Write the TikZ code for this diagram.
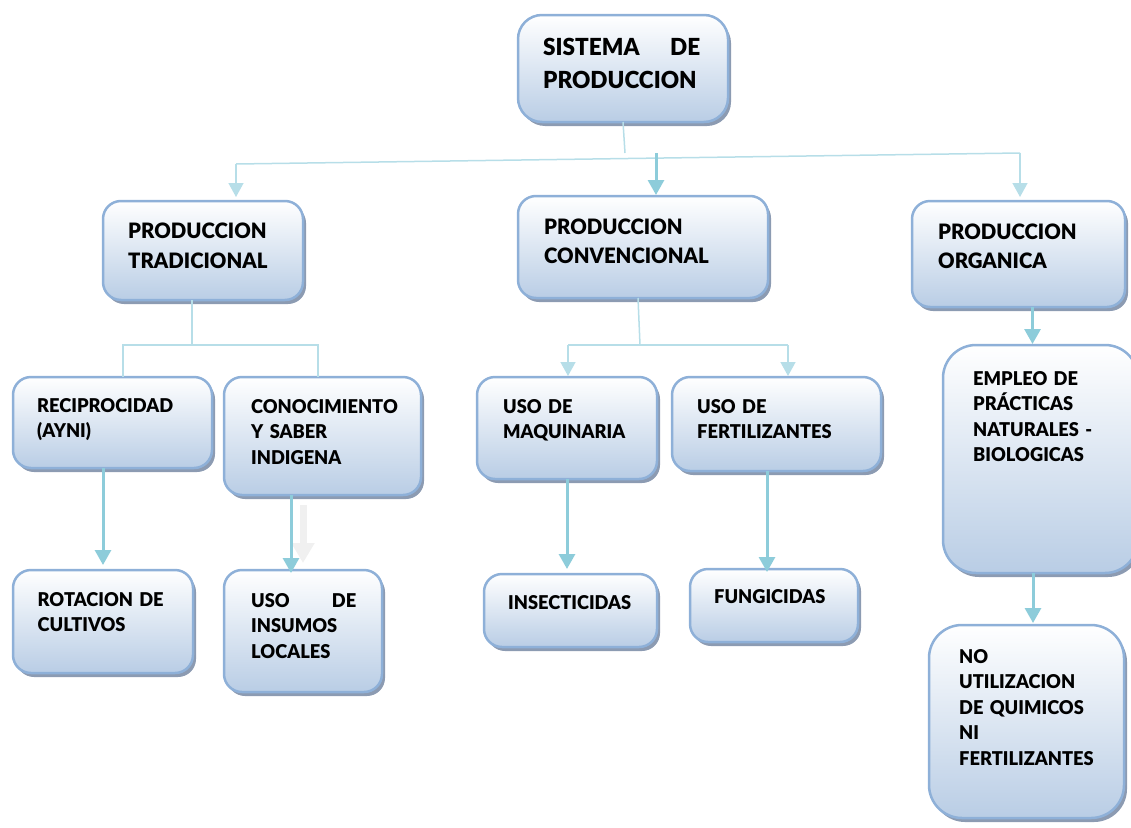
\documentclass[tikz,border=0pt]{standalone}
\usepackage{fontspec}
\setmainfont{Lato}[FakeStretch=0.96,BoldFont={Lato Black}]
\usepackage{tikz}
\usetikzlibrary{arrows.meta}
\usetikzlibrary{shadows}
\usetikzlibrary{positioning}

\definecolor{boxline}{HTML}{8EB0D8}
\definecolor{boxfill}{HTML}{B9CDE5}
\definecolor{shadowc}{HTML}{8C9BB2}
\definecolor{thinc}{HTML}{B7DEE8}
\definecolor{thickc}{HTML}{8DCCDA}

\tikzset{
  box/.style={draw=boxline,line width=2.5pt,rounded corners=18pt,top color=white,bottom color=boxfill,
    drop shadow={shadow xshift=3pt,shadow yshift=-4pt,fill=shadowc,opacity=1},
    anchor=north west,inner sep=0pt,outer sep=0pt},
  txt/.style={anchor=base west,inner sep=0pt,text width=200pt,align=left,
    font=\bfseries\fontsize{19}{25.5}\selectfont},
  lvone/.style={txt,font=\bfseries\fontsize{21.2}{29.5}\selectfont},
  thinline/.style={draw=thinc,line width=1.5pt},
  thinarr/.style={thinline,-{Triangle[length=14pt,width=15pt]},shorten >=4pt},
  thickarr/.style={draw=thickc,line width=3pt,-{Triangle[length=15pt,width=16pt]},shorten >=5pt},
  ghost/.style={draw=black!6,line width=7pt,-{Triangle[length=20pt,width=22pt]}}
}

\begin{document}
\begin{tikzpicture}[x=1pt,y=-1pt]
  \useasboundingbox (0,0) rectangle (1131,827);

  \node[box,rounded corners=24pt,minimum width=210pt,minimum height=107pt] (top) at (518,15) {};
  \node[txt,text width=157pt,font=\bfseries\fontsize{23.5}{33}\selectfont] (top-t) at ([shift={(25,40)}]top.north west) {SISTEMA\hfill DE\\PRODUCCION};

  \node[box,minimum width=200pt,minimum height=99pt] (trad) at (103,201) {};
  \node[box,minimum width=250pt,minimum height=102pt] (conv) at (518,196) {};
  \node[box,minimum width=213pt,minimum height=106pt] (org) at (912,201) {};
  \node[lvone] (trad-t) at ([shift={(25,37.5)}]trad.north west) {PRODUCCION\\TRADICIONAL};
  \node[lvone] (conv-t) at ([shift={(26,38)}]conv.north west) {PRODUCCION\\CONVENCIONAL};
  \node[lvone] (org-t) at ([shift={(26,38)}]org.north west) {PRODUCCION\\ORGANICA};

  \node[box,minimum width=199pt,minimum height=91pt] (recip) at (13,377) {};
  \node[box,minimum width=197pt,minimum height=118pt] (conoc) at (224,377) {};
  \node[box,minimum width=180pt,minimum height=102pt] (maq) at (477,377) {};
  \node[box,minimum width=209pt,minimum height=94pt] (fert) at (672,377) {};
  \node[box,rounded corners=33pt,minimum width=195pt,minimum height=228pt] (empleo) at (943,345) {};
  \node[txt] (recip-t) at ([shift={(24,35)}]recip.north west) {RECIPROCIDAD\\(AYNI)};
  \node[txt] (conoc-t) at ([shift={(27,36)}]conoc.north west) {CONOCIMIENTO\\Y SABER\\INDIGENA};
  \node[txt] (maq-t) at ([shift={(26,36)}]maq.north west) {USO DE\\MAQUINARIA};
  \node[txt] (fert-t) at ([shift={(25,36)}]fert.north west) {USO DE\\FERTILIZANTES};
  \node[txt] (empleo-t) at ([shift={(30,40)}]empleo.north west) {EMPLEO DE\\PRÁCTICAS\\NATURALES -\\BIOLOGICAS};

  \node[box,minimum width=180pt,minimum height=103pt] (rotac) at (13,570) {};
  \node[box,minimum width=158pt,minimum height=122pt] (insum) at (224,570) {};
  \node[box,minimum width=173pt,minimum height=73pt] (insect) at (484,574) {};
  \node[box,minimum width=168pt,minimum height=73pt] (fungi) at (690,569) {};
  \node[box,rounded corners=33pt,minimum width=195pt,minimum height=193pt] (noquim) at (929,625) {};
  \node[txt] (rotac-t) at ([shift={(24.5,36)}]rotac.north west) {ROTACION DE\\CULTIVOS};
  \node[txt,text width=105pt] (insum-t) at ([shift={(27,37)}]insum.north west) {USO\hfill DE\\INSUMOS\\LOCALES};
  \node[txt] (insect-t) at ([shift={(24,35)}]insect.north west) {INSECTICIDAS};
  \node[txt] (fungi-t) at ([shift={(24,34)}]fungi.north west) {FUNGICIDAS};
  \node[txt] (noquim-t) at ([shift={(30,38)}]noquim.north west) {NO\\UTILIZACION\\DE QUIMICOS\\NI\\FERTILIZANTES};

  % first level
  \coordinate (hl) at (236,164);
  \coordinate (hr) at (1020,153);
  \coordinate (tj) at (625,153);
  \coordinate (cj) at (656,153);
  \draw[thinline] (top.south) -- (tj);
  \draw[thinline] (hl) -- (hr);
  \draw[thinarr] (hl) -- (hl |- trad.north);
  \draw[thinarr] (hr) -- (hr |- org.north);
  \draw[thickarr,shorten >=1pt] (cj) -- (cj |- conv.north);

  % second level
  \coordinate (tl) at (123,345);
  \coordinate (tr) at (318,345);
  \draw[thinline] ([xshift=-11pt]trad.south) -- ([xshift=-11pt]trad.south |- tl);
  \draw[thinline] (tl |- recip.north) -- (tl) -- (tr) -- (tr |- conoc.north);
  \coordinate (cl) at (568,345);
  \coordinate (cr) at (788,345);
  \draw[thinline] ([xshift=-5pt]conv.south) -- ([xshift=-3pt]conv.south |- cl);
  \draw[thinline] (cl) -- (cr);
  \draw[thinarr,shorten >=1pt] (cl) -- (cl |- maq.north);
  \draw[thinarr,shorten >=1pt] (cr) -- (cr |- fert.north);
  \draw[thickarr,shorten >=1pt] ([xshift=14pt]org.south) -- ([xshift=14pt]org.south |- empleo.north);

  % third level
  \draw[thickarr] (rotac.north |- recip.south) -- (rotac.north);
  \draw[ghost] ([yshift=-10pt]conoc.south -| insum.north) -- ([yshift=7pt]insum.north);
  \draw[thickarr,shorten >=-3pt] ([xshift=-12pt]insum.north |- conoc.south) -- ([xshift=-12pt]insum.north);
  \draw[thickarr] (maq.south) -- (maq.south |- insect.north);
  \draw[thickarr,shorten >=-3pt] ([xshift=-9.5pt]fert.south) -- ([xshift=-9.5pt]fert.south |- fungi.north);
  \draw[thickarr,shorten >=2pt] ([xshift=6.5pt]noquim.north |- empleo.south) -- ([xshift=6.5pt]noquim.north);
\end{tikzpicture}
\end{document}
